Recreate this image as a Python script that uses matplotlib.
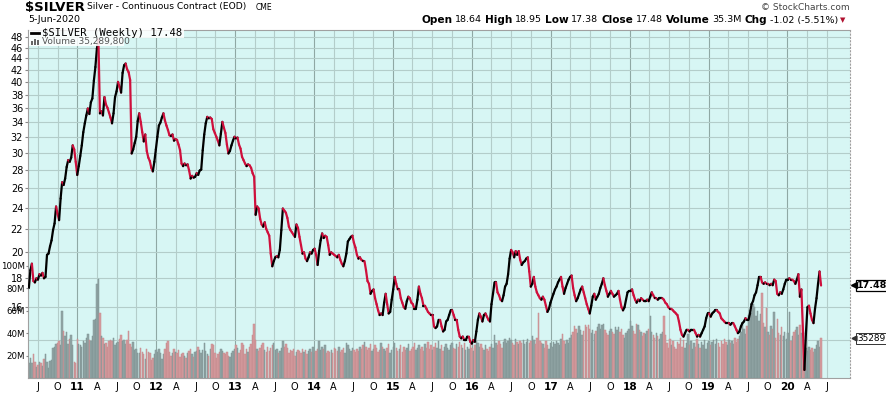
import numpy as np
import pandas as pd
import matplotlib
matplotlib.use('Agg')
import matplotlib.pyplot as plt
import matplotlib.transforms as mtransforms
from matplotlib.collections import LineCollection
from matplotlib.patches import Rectangle
from matplotlib.ticker import FixedLocator, NullLocator

# weekly closes, $SILVER, week ending 21-May-2010 .. 5-Jun-2020
close = [
    17.3, 18.6, 19.1, 17.8, 17.7, 18.0, 17.9, 18.3, 18.2, 18.4,
    18.0, 18.1, 19.8, 19.9, 20.5, 21.0, 21.9, 22.5, 24.1, 23.4,
    22.8, 24.9, 26.6, 26.3, 27.0, 28.3, 29.1, 28.9, 29.4, 30.9,
    30.4, 28.9, 27.4, 28.4, 29.6, 30.9, 32.6, 33.8, 34.9, 35.9,
    35.1, 36.8, 37.4, 40.2, 42.5, 45.8, 47.5, 35.2, 35.5, 34.9,
    37.6, 36.5, 36.0, 35.3, 34.6, 33.8, 35.2, 37.6, 38.5, 40.0,
    39.2, 38.3, 41.5, 42.8, 43.1, 42.1, 41.6, 40.3, 29.9, 30.4,
    31.2, 32.0, 34.1, 35.2, 34.0, 32.6, 31.4, 32.3, 30.2, 29.4,
    29.0, 28.2, 27.8, 28.9, 30.4, 32.0, 33.5, 33.9, 34.6, 35.2,
    34.2, 33.5, 32.9, 32.2, 32.1, 32.3, 31.5, 31.7, 31.6, 31.0,
    30.3, 28.7, 28.4, 28.7, 28.5, 28.6, 27.9, 27.0, 27.3, 27.1,
    27.2, 27.6, 27.4, 27.9, 28.0, 30.3, 32.3, 33.8, 34.7, 34.5,
    34.6, 34.4, 33.0, 32.5, 32.0, 31.5, 30.9, 32.4, 34.0, 33.2,
    32.5, 31.0, 29.9, 30.2, 30.9, 31.5, 32.0, 31.8, 31.9, 31.0,
    30.5, 29.5, 29.1, 28.7, 28.4, 28.6, 28.5, 28.2, 27.6, 27.2,
    23.3, 24.1, 23.9, 22.9, 22.4, 22.2, 22.6, 22.0, 21.7, 21.4,
    19.9, 18.9, 19.3, 19.6, 19.7, 19.6, 20.2, 21.9, 23.9, 23.7,
    23.5, 23.0, 22.2, 21.9, 21.7, 21.5, 21.3, 22.4, 22.1, 21.3,
    20.6, 19.9, 20.0, 19.5, 19.3, 19.6, 20.0, 19.9, 20.2, 20.3,
    19.8, 19.0, 20.1, 21.0, 21.6, 21.2, 21.4, 21.3, 20.6, 19.8,
    20.0, 19.9, 19.8, 19.7, 19.6, 19.8, 19.4, 19.1, 18.9, 19.3,
    19.9, 20.9, 21.1, 21.3, 21.4, 20.8, 20.4, 19.8, 19.5, 19.6,
    19.4, 19.3, 19.3, 18.6, 17.8, 17.6, 16.9, 17.1, 17.2, 16.6,
    16.2, 15.8, 15.5, 15.6, 15.5, 16.3, 16.9, 16.2, 15.6, 15.7,
    16.5, 17.2, 18.1, 17.6, 17.2, 17.2, 16.6, 16.3, 16.0, 15.9,
    16.4, 16.7, 16.6, 16.3, 16.2, 15.9, 15.9, 16.5, 17.4, 16.9,
    16.6, 16.1, 16.1, 15.9, 15.7, 15.6, 15.5, 15.5, 14.8, 14.7,
    14.8, 15.2, 15.2, 14.8, 14.5, 14.6, 15.1, 15.2, 15.5, 15.8,
    15.8, 15.5, 15.2, 15.2, 14.6, 14.2, 14.1, 14.2, 14.0, 14.0,
    14.2, 14.2, 13.9, 13.8, 14.0, 13.9, 14.5, 15.2, 15.6, 15.4,
    15.1, 15.5, 15.6, 15.4, 15.2, 15.1, 16.2, 16.9, 17.7, 17.7,
    17.0, 16.8, 16.5, 16.4, 16.8, 17.4, 17.6, 18.3, 19.5, 20.2,
    20.0, 19.6, 20.1, 19.8, 20.1, 19.4, 19.0, 19.2, 19.3, 19.5,
    19.6, 18.5, 17.4, 17.6, 18.1, 17.4, 17.0, 16.8, 16.6, 16.5,
    16.7, 16.5, 16.1, 15.7, 15.9, 16.3, 16.6, 16.9, 17.2, 17.4,
    17.7, 17.9, 18.1, 17.4, 16.9, 17.3, 17.6, 17.9, 18.1, 18.2,
    17.3, 16.8, 16.4, 16.6, 16.9, 17.2, 17.4, 17.0, 16.6, 16.2,
    15.9, 15.6, 16.1, 16.7, 16.9, 16.5, 16.7, 16.9, 17.3, 17.6,
    18.0, 17.5, 17.1, 16.7, 16.9, 17.1, 16.9, 16.7, 16.8, 16.9,
    17.1, 16.5, 16.0, 15.8, 16.0, 16.5, 17.0, 17.1, 17.1, 17.2,
    16.8, 16.5, 16.3, 16.5, 16.4, 16.6, 16.5, 16.4, 16.4, 16.5,
    16.4, 16.7, 17.0, 16.8, 16.6, 16.6, 16.5, 16.6, 16.6, 16.6,
    16.5, 16.3, 16.2, 16.0, 15.9, 15.9, 15.8, 15.7, 15.6, 15.5,
    15.1, 14.6, 14.3, 14.2, 14.4, 14.6, 14.6, 14.5, 14.6, 14.6,
    14.6, 14.4, 14.2, 14.3, 14.2, 14.4, 14.6, 14.8, 15.3, 15.6,
    15.6, 15.4, 15.6, 15.7, 15.8, 15.8, 15.7, 15.6, 15.3, 15.2,
    15.1, 15.0, 15.0, 15.0, 14.9, 15.0, 15.0, 14.8, 14.6, 14.4,
    14.5, 14.8, 15.0, 15.1, 15.3, 15.2, 15.2, 15.6, 16.2, 16.4,
    16.8, 17.0, 17.5, 18.1, 18.1, 17.7, 17.6, 17.7, 17.6, 17.6,
    17.5, 17.6, 17.5, 17.9, 17.8, 16.9, 16.8, 17.0, 16.9, 17.2,
    17.6, 17.9, 17.9, 18.0, 17.9, 17.9, 17.8, 17.6, 17.9, 18.3,
    16.7, 17.2, 14.6, 12.4, 14.4, 16.0, 16.1, 15.6, 15.2, 15.0,
    15.9, 16.6, 17.6, 18.5, 17.48,
]

# weekly volume, millions of contracts
volume = [
    13, 18, 13, 21, 14, 10, 12, 14, 13, 11,
    17, 21, 14, 9, 15, 16, 27, 28, 30, 31,
    33, 29, 60, 42, 37, 41, 30, 35, 38, 29,
    14, 13, 35, 30, 29, 28, 33, 31, 36, 39,
    34, 33, 37, 52, 53, 84, 88, 58, 37, 36,
    30, 31, 28, 33, 34, 33, 36, 29, 31, 32,
    35, 38, 33, 34, 30, 34, 42, 30, 28, 32,
    25, 26, 22, 22, 27, 23, 21, 17, 26, 23,
    22, 16, 18, 21, 25, 23, 26, 22, 17, 21,
    26, 31, 33, 23, 20, 22, 26, 23, 22, 25,
    19, 21, 22, 20, 18, 22, 24, 26, 21, 19,
    23, 24, 28, 25, 22, 25, 31, 24, 21, 20,
    26, 30, 29, 22, 18, 21, 23, 26, 24, 22,
    21, 23, 20, 19, 22, 24, 26, 29, 27, 22,
    25, 31, 29, 21, 26, 23, 28, 30, 38, 48,
    34, 26, 24, 27, 29, 31, 25, 23, 28, 24,
    27, 29, 31, 25, 26, 22, 24, 27, 33, 28,
    30, 27, 22, 25, 24, 26, 20, 23, 25, 24,
    22, 26, 23, 25, 21, 24, 26, 23, 28, 22,
    24, 26, 33, 25, 28, 26, 29, 22, 24, 23,
    25, 22, 27, 26, 24, 28, 23, 25, 27, 22,
    31, 29, 26, 24, 27, 25, 23, 26, 24, 28,
    26, 29, 32, 28, 25, 27, 30, 24, 26, 29,
    27, 23, 25, 31, 28, 26, 24, 27, 30, 22,
    25, 28, 31, 27, 24, 26, 29, 23, 28, 25,
    27, 30, 24, 26, 28, 31, 25, 27, 29, 26,
    28, 24, 30, 27, 32, 26, 29, 25, 28, 31,
    27, 33, 26, 29, 24, 28, 30, 27, 25, 29,
    31, 27, 26, 30, 28, 32, 29, 27, 31, 25,
    28, 26, 30, 27, 24, 29, 33, 31, 28, 30,
    27, 25, 29, 26, 24, 28, 30, 27, 38, 31,
    29, 33, 30, 27, 32, 35, 31, 33, 36, 34,
    31, 29, 35, 32, 30, 33, 31, 34, 30, 32,
    35, 31, 33, 37, 34, 30, 36, 58, 33, 31,
    30, 27, 33, 29, 26, 31, 28, 32, 30, 33,
    31, 29, 35, 39, 33, 30, 34, 31, 36, 38,
    41, 46, 44, 40, 46, 43, 38, 42, 47, 45,
    47, 44, 40, 43, 39, 42, 45, 48, 44, 47,
    48, 43, 40, 38, 42, 44, 41, 39, 45, 43,
    45, 41, 44, 38, 36, 40, 42, 44, 51, 46,
    42, 39, 48, 47, 43, 41, 37, 40, 39, 42,
    44, 55, 41, 38, 36, 40, 37, 35, 39, 41,
    55, 38, 31, 27, 35, 29, 33, 28, 26, 32,
    30, 36, 28, 34, 27, 31, 39, 29, 33, 26,
    31, 28, 35, 30, 27, 32, 29, 34, 26, 31,
    33, 29, 32, 34, 30, 35, 31, 28, 33, 30,
    35, 32, 29, 34, 31, 33, 30, 36, 32, 35,
    37, 41, 48, 44, 39, 46, 56, 61, 58, 66,
    63, 55, 60, 51, 57, 76, 49, 45, 62, 41,
    38, 46, 44, 59, 36, 53, 40, 38, 45, 37,
    41, 35, 40, 59, 33, 37, 41, 43, 45, 38,
    47, 40, 34, 29, 27, 24, 28, 25, 27, 23,
    26, 29, 33, 28, 35.29,
]

weeks = pd.date_range('2010-05-21', periods=len(close), freq='7D')
price_ticks = [16, 18, 20, 22, 24, 26, 28, 30, 32, 34, 36, 38, 40, 42, 44, 46, 48]
price_grid = [14] + price_ticks
vol_ticks = [20, 40, 60, 80, 100]
last_close = 17.48
last_volume = 35.2898

header = [('Open', True), ('18.64', False), ('High', True), ('18.95', False),
          ('Low', True), ('17.38', False), ('Close', True), ('17.48', False),
          ('Volume', True), ('35.3M', False), ('Chg', True), ('-1.02 (-5.51%)', False)]

up_line, down_line = '#000000', '#cf0f3c'
up_bar, down_bar = '#93a7a7', '#d69c9f'
up_edge, down_edge = '#7d9292', '#c48a8d'
W, H = 887, 394

plt.rcParams['font.family'] = 'DejaVu Sans'
fig = plt.figure(figsize=(W / 100, H / 100), dpi=100)
ax = fig.add_axes([28 / W, 16 / H, 822 / W, 348 / H])
ax.set_facecolor('#d7f6f4')
ax.set_yscale('log')
ax.set_ylim(12, 49.4)
ax.set_xlim(pd.Timestamp('2010-05-17'), pd.Timestamp('2020-10-17'))
ax.set_autoscale_on(False)

# grid: quarters light, years darker
quarters = pd.date_range('2010-07-01', '2020-07-01', freq='QS')
for q in quarters:
    ax.axvline(q, color='#8fa8a4' if q.month == 1 else '#b3cdca', lw=0.8, zorder=1)
for p in price_grid:
    ax.axhline(p, color='#b3cdca', lw=0.8, zorder=1)

# volume bars share the axes, scaled to axes fraction
vol_top = 310.0
vol_trans = mtransforms.blended_transform_factory(
    ax.transData, mtransforms.Affine2D().scale(1, 1 / vol_top) + ax.transAxes)
closes = np.array(close)
up = np.r_[True, closes[1:] >= closes[:-1]]
ax.bar(weeks, volume, width=6.6, color=np.where(up, up_bar, down_bar),
       edgecolor=np.where(up, up_edge, down_edge), linewidth=0.35,
       transform=vol_trans, zorder=2)

# price line, black up weeks, red down weeks
xn = matplotlib.dates.date2num(weeks)
pts = np.column_stack([xn, closes])
segs = np.stack([pts[:-1], pts[1:]], axis=1)
lc = LineCollection(segs, colors=np.where(up[1:], up_line, down_line),
                    linewidths=1.6, capstyle='round', joinstyle='round', zorder=3)
ax.add_collection(lc)

# axes cosmetics
for s in ax.spines.values():
    s.set_color('#a0a0a0')
    s.set_linewidth(0.8)
ax.spines['right'].set_linestyle((0, (1, 2)))
ax.yaxis.tick_right()
ax.yaxis.set_major_locator(FixedLocator(price_ticks))
ax.yaxis.set_minor_locator(NullLocator())
ax.set_yticklabels([str(p) for p in price_ticks])
ax.tick_params(axis='y', length=2, pad=1.5, labelsize=7, color='#888888',
               labelleft=False, labelright=True)

ax.set_xticks(quarters)
ax.set_xticklabels([q.strftime('%y') if q.month == 1 else q.strftime('%b')[0] for q in quarters])
for q, lab in zip(quarters, ax.get_xticklabels()):
    lab.set_fontweight('bold' if q.month == 1 else 'normal')
    lab.set_fontsize(7.6 if q.month == 1 else 7)
ax.tick_params(axis='x', length=0, pad=3)

axv = ax.twinx()
axv.set_ylim(0, vol_top)
axv.yaxis.tick_left()
axv.set_yticks(vol_ticks)
axv.set_yticklabels([f'{v}M' for v in vol_ticks])
axv.tick_params(axis='y', length=1.5, pad=0.5, labelsize=6.2, color='#888888',
                labelleft=True, labelright=False)
for s in axv.spines.values():
    s.set_visible(False)

# title lines
fig.text(25 / W, 1 - 7 / H, '$SILVER', fontsize=9.5, fontweight='bold', va='center')
fig.text(87 / W, 1 - 7 / H, 'Silver - Continuous Contract (EOD)', fontsize=6.6, va='center')
fig.text(256 / W, 1 - 7.5 / H, 'CME', fontsize=5.5, va='center')
fig.text(28 / W, 1 - 20 / H, '5-Jun-2020', fontsize=6.8, va='center')
fig.text(850 / W, 1 - 7 / H, '\u00a9 StockCharts.com', fontsize=6.5, color='#444444',
         ha='right', va='center')

# OHLC summary, laid out right to left so it ends before the arrow
renderer = fig.canvas.get_renderer()
fig.text(840 / W, 1 - 20 / H, '\u25bc', fontsize=5, color='#b0102f', va='center')
xpix = 838
for s, bold in reversed(header):
    t = fig.text(xpix / W, 1 - 20 / H, s, fontsize=7.6 if bold else 6.8,
                 fontweight='bold' if bold else 'normal', va='center', ha='right')
    xpix = t.get_window_extent(renderer).x0 - (3 if bold else 2.5)

# legend block
fig.patches.append(Rectangle((29 / W, 1 - 38 / H), 155 / W, 10 / H, transform=fig.transFigure,
                             fc='white', ec='none', alpha=0.85, zorder=5))
fig.patches.append(Rectangle((29 / W, 1 - 46 / H), 95 / W, 8 / H, transform=fig.transFigure,
                             fc='white', ec='none', alpha=0.85, zorder=5))
fig.lines.append(plt.Line2D([31 / W, 39 / W], [1 - 33 / H] * 2, transform=fig.transFigure,
                            color='black', lw=2, zorder=6))
fig.text(42 / W, 1 - 33 / H, '$SILVER (Weekly) 17.48', family='DejaVu Sans Mono',
         fontsize=7.6, va='center', zorder=6)
for i, h in enumerate([4, 6, 5]):
    fig.patches.append(Rectangle(((31 + i * 3) / W, 1 - 45 / H), 2 / W, h / H,
                                 transform=fig.transFigure, fc='#666666', zorder=6))
fig.text(42 / W, 1 - 41.5 / H, 'Volume 35,289,800', fontsize=6.5, color='#555555',
         va='center', zorder=6)

# last value tags on right axis
tag_x = mtransforms.blended_transform_factory(ax.transAxes, ax.transData)
ax.annotate(f'{last_close:.2f}', xy=(1, last_close), xycoords=tag_x, xytext=(5, 0),
            textcoords='offset points', ha='left', va='center', fontsize=6.8,
            fontweight='bold', annotation_clip=False,
            bbox=dict(boxstyle='square,pad=0.12', fc='white', ec='black', lw=0.9))
ax.plot([1.0045], [last_close], marker='<', ms=4, color='black', transform=tag_x,
        clip_on=False, zorder=6)
vtag_x = mtransforms.blended_transform_factory(axv.transAxes, axv.transData)
axv.annotate(f'{int(last_volume * 1000)}', xy=(1, last_volume), xycoords=vtag_x,
             xytext=(5, 0), textcoords='offset points', ha='left', va='center',
             fontsize=6.4, annotation_clip=False,
             bbox=dict(boxstyle='square,pad=0.12', fc='white', ec='#333333', lw=0.7))
axv.plot([1.0045], [last_volume], marker='<', ms=3.5, color='#333333', transform=vtag_x,
         clip_on=False, zorder=6)

fig.savefig('out.png', dpi=100)
